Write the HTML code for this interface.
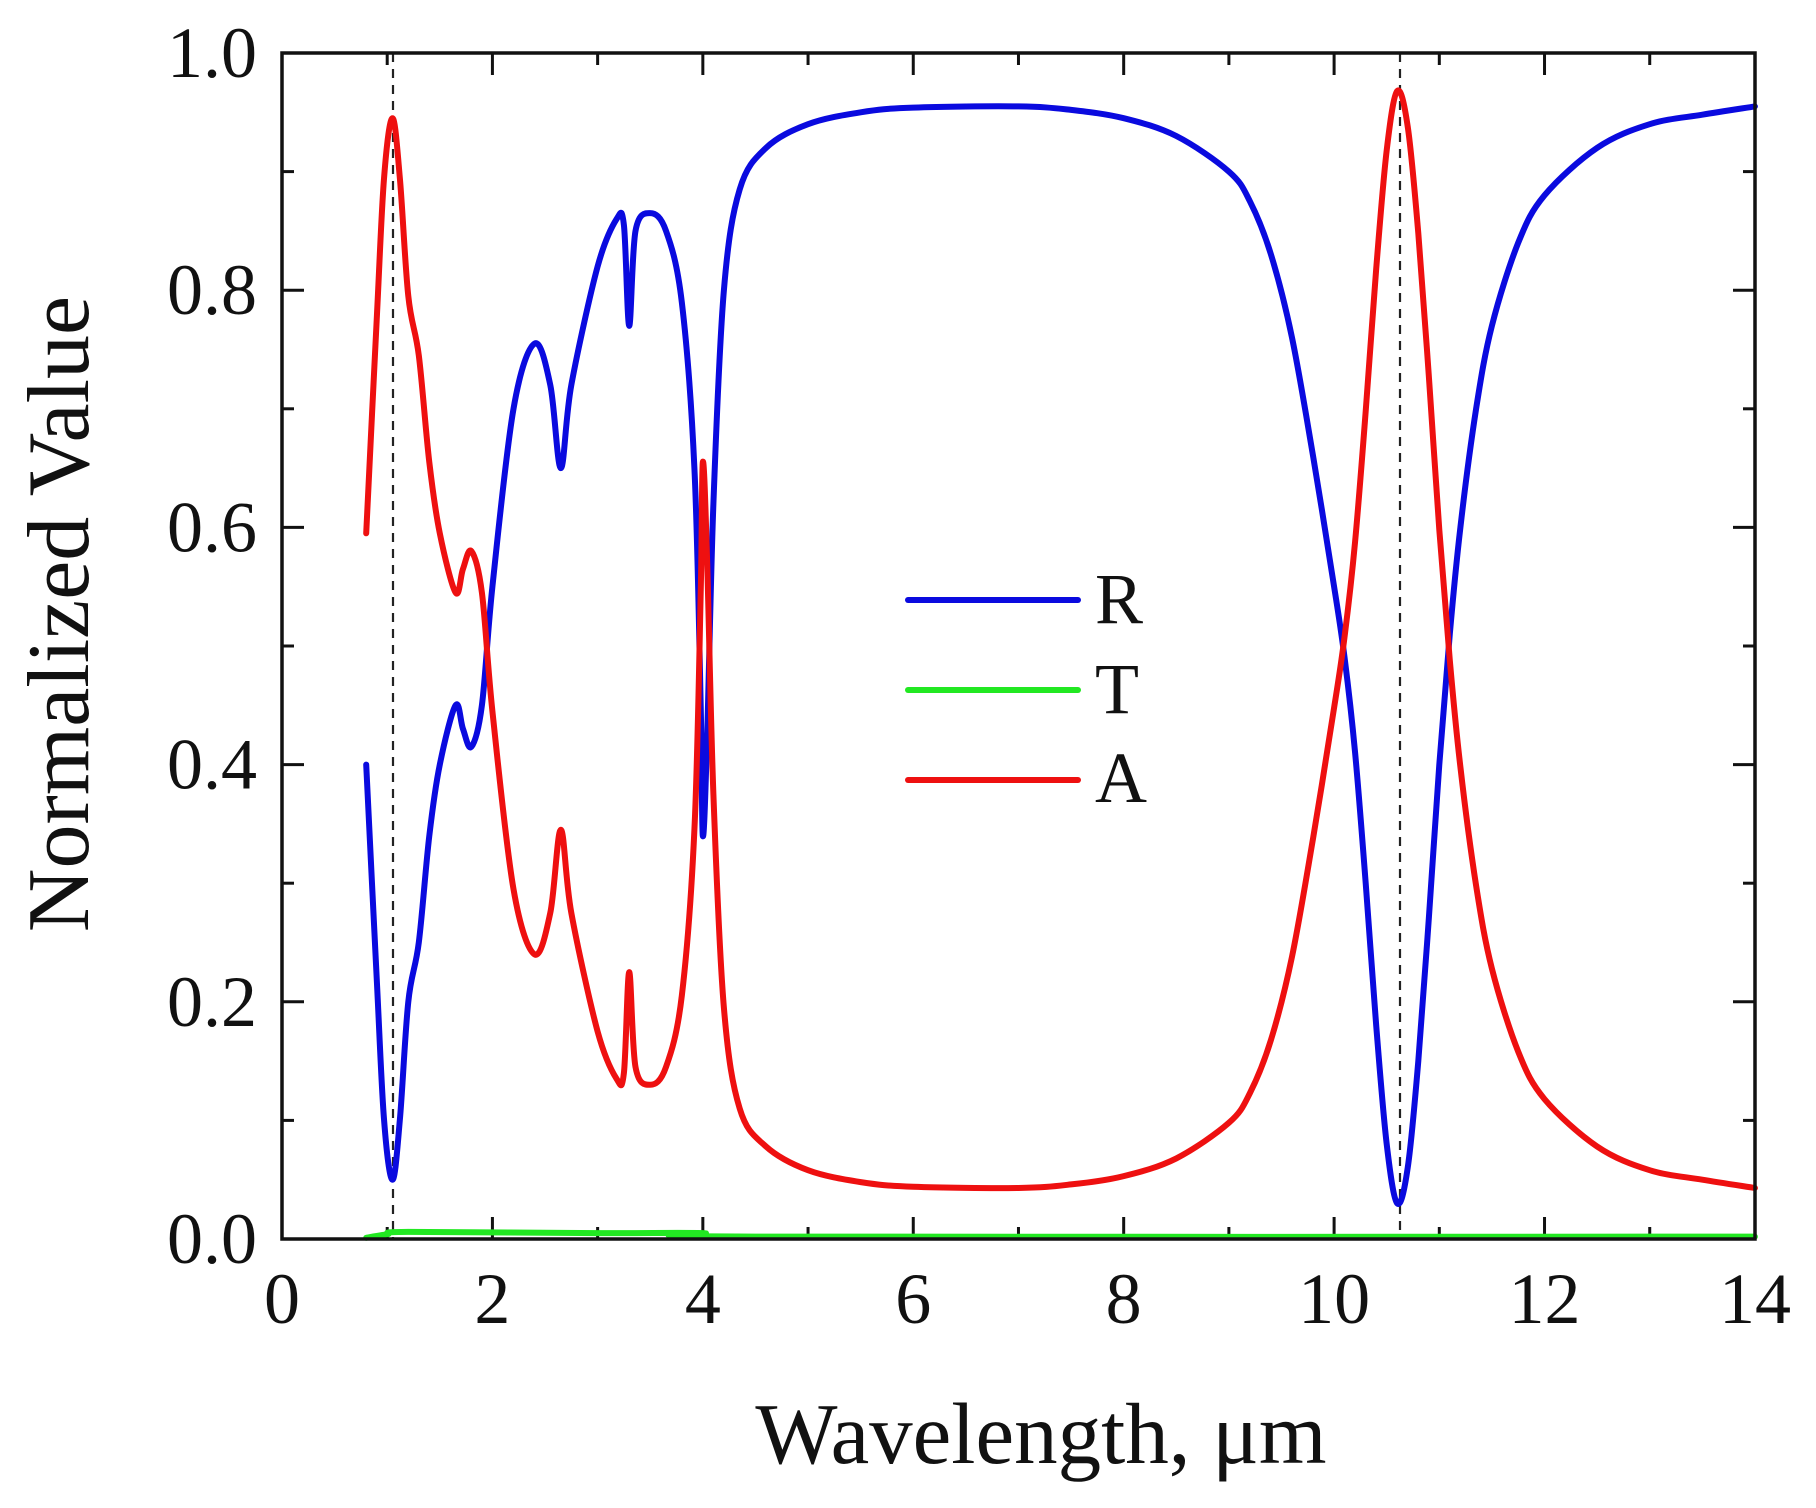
<!DOCTYPE html>
<html><head><meta charset="utf-8">
<style>
html,body{margin:0;padding:0;background:#fff;}
svg{display:block;}
text{font-family:"Liberation Serif","Times New Roman",serif;fill:#111;}
</style></head>
<body>
<svg id="s" width="1816" height="1508" viewBox="0 0 1816 1508" xmlns="http://www.w3.org/2000/svg">
<rect width="1816" height="1508" fill="#fff"/>
<g id="ticks" stroke="#111" stroke-width="3"></g>
<line x1="393" y1="53" x2="393" y2="1239" stroke="#222" stroke-width="2.2" stroke-dasharray="9,7"/>
<line x1="1400" y1="53" x2="1400" y2="1239" stroke="#222" stroke-width="2.2" stroke-dasharray="9,7"/>
<path id="pT" fill="none" stroke="#22e822" stroke-width="6" stroke-linejoin="round" stroke-linecap="round"/>
<path id="pR" fill="none" stroke="#0a0adf" stroke-width="6" stroke-linejoin="round" stroke-linecap="round"/>
<path id="pA" fill="none" stroke="#ee1010" stroke-width="6" stroke-linejoin="round" stroke-linecap="round"/>
<rect x="282" y="53" width="1473" height="1186" fill="none" stroke="#111" stroke-width="3.5"/>
<g id="labels" font-size="72"></g>
<text x="1041" y="1463" font-size="87" text-anchor="middle">Wavelength, μm</text>
<text transform="translate(88,614) rotate(-90)" font-size="88" text-anchor="middle">Normalized Value</text>
<line x1="908" y1="600" x2="1078" y2="600" stroke="#0a0adf" stroke-width="6" stroke-linecap="round"/>
<line x1="908" y1="690" x2="1078" y2="690" stroke="#22e822" stroke-width="6" stroke-linecap="round"/>
<line x1="908" y1="780" x2="1078" y2="780" stroke="#ee1010" stroke-width="6" stroke-linecap="round"/>
<text x="1095" y="623" font-size="72">R</text>
<text x="1095" y="713" font-size="72">T</text>
<text x="1095" y="802" font-size="72">A</text>
</svg>
<script>
var NS="http://www.w3.org/2000/svg";
function X(x){return 282+x*105.21;}
function Y(y){return 1239-y*1186;}
var tk=document.getElementById('ticks'),lb=document.getElementById('labels');
function ln(a,b,c,d){var l=document.createElementNS(NS,'line');l.setAttribute('x1',a);l.setAttribute('y1',b);l.setAttribute('x2',c);l.setAttribute('y2',d);tk.appendChild(l);}
function tx(x,y,s,anc){var t=document.createElementNS(NS,'text');t.setAttribute('x',x);t.setAttribute('y',y);t.setAttribute('text-anchor',anc);t.textContent=s;lb.appendChild(t);}
for(var i=0;i<=14;i++){var L=(i%2==0)?22:12;var x=X(i);
 if(i>0&&i<14){ln(x,1239,x,1239-L);ln(x,53,x,53+L);}
 if(i%2==0)tx(x,1323,String(i),'middle');}
for(var j=0;j<=10;j++){var v=j/10,L=(j%2==0)?22:12,y=Y(v);
 if(j>0&&j<10){ln(282,y,282+L,y);ln(1755,y,1755-L,y);}
 if(j%2==0)tx(257,y+24,v.toFixed(1),'end');}
var R=[[0.8,0.4],[0.9,0.22],[0.97,0.1],[1.05,0.05],[1.12,0.1],[1.2,0.2],[1.3,0.25],[1.4,0.34],[1.5,0.4],[1.65,0.45],[1.72,0.43],[1.8,0.415],[1.9,0.45],[2.0,0.55],[2.2,0.7],[2.4,0.755],[2.55,0.72],[2.65,0.65],[2.75,0.72],[3.0,0.82],[3.18,0.86],[3.25,0.855],[3.3,0.77],[3.36,0.85],[3.5,0.865],[3.65,0.85],[3.8,0.79],[3.92,0.65],[3.98,0.45],[4.0,0.34],[4.04,0.42],[4.1,0.62],[4.2,0.8],[4.35,0.885],[4.6,0.92],[5,0.94],[5.5,0.95],[6,0.954],[7,0.955],[7.5,0.952],[8,0.945],[8.5,0.93],[9,0.9],[9.2,0.875],[9.4,0.83],[9.6,0.76],[9.8,0.66],[10.0,0.55],[10.1,0.49],[10.2,0.41],[10.3,0.3],[10.4,0.18],[10.5,0.08],[10.6,0.03],[10.7,0.06],[10.8,0.15],[10.9,0.27],[11.0,0.4],[11.1,0.51],[11.2,0.6],[11.35,0.7],[11.5,0.77],[11.75,0.84],[12,0.88],[12.5,0.92],[13,0.94],[13.5,0.948],[14,0.955]];
var A=R.map(function(p){var t=(p[0]<4.5)?0.005:0.002;return [p[0],1-p[1]-t];});
var T=[[0.8,0.001],[1.0,0.004],[1.2,0.006],[3,0.005],[4,0.005],[4.5,0.002],[14,0.002]];
function path(pts){var P=pts.map(function(p){return [X(p[0]),Y(p[1])];});
 var d='M'+P[0][0].toFixed(1)+','+P[0][1].toFixed(1);
 for(var i=0;i<P.length-1;i++){var p0=P[i-1]||P[i],p1=P[i],p2=P[i+1],p3=P[i+2]||p2;
  var c1=[p1[0]+(p2[0]-p0[0])/6,p1[1]+(p2[1]-p0[1])/6],c2=[p2[0]-(p3[0]-p1[0])/6,p2[1]-(p3[1]-p1[1])/6];
  d+='C'+c1[0].toFixed(1)+','+c1[1].toFixed(1)+' '+c2[0].toFixed(1)+','+c2[1].toFixed(1)+' '+p2[0].toFixed(1)+','+p2[1].toFixed(1);}
 return d;}
document.getElementById('pR').setAttribute('d',path(R));
document.getElementById('pA').setAttribute('d',path(A));
document.getElementById('pT').setAttribute('d',path(T));
</script>
</body></html>
